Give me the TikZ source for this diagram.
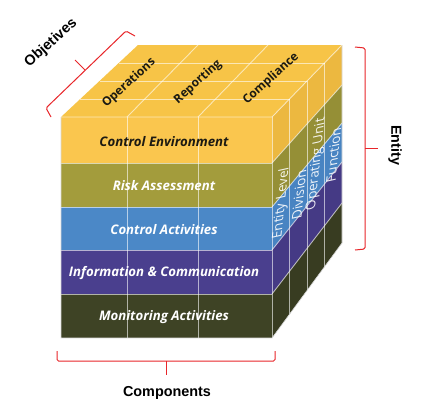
\documentclass[tikz,border=0pt]{standalone}
\usepackage{fontspec}
\setmainfont{Liberation Sans}
\newfontfamily\cubefont{Open Sans}
\definecolor{topY}{HTML}{F7C447}
\definecolor{ceF}{HTML}{FAC64E}
\definecolor{ceS}{HTML}{ECB840}
\definecolor{raF}{HTML}{A39C3C}
\definecolor{raS}{HTML}{958F36}
\definecolor{caF}{HTML}{4B88C7}
\definecolor{caS}{HTML}{4884C2}
\definecolor{icF}{HTML}{4A3F8E}
\definecolor{icS}{HTML}{453A85}
\definecolor{maF}{HTML}{3E4325}
\definecolor{maS}{HTML}{383C21}
\definecolor{brkred}{HTML}{E8262A}
\definecolor{txtdark}{HTML}{1C1A12}
\begin{document}
\begin{tikzpicture}[x=1pt,y=-1pt,
  gridln/.style={draw=white, draw opacity=0.6, line width=0.9pt},
  brk/.style={draw=brkred, line width=1pt, rounded corners=1.5pt},
  flabel/.style={font=\cubefont\bfseries\itshape\fontsize{13.2}{15}\selectfont, text=white, inner sep=0pt},
  tlabel/.style={font=\cubefont\bfseries\fontsize{12}{14}\selectfont, text=txtdark, rotate=42, inner sep=0pt},
  slabel/.style={font=\cubefont\fontsize{13.5}{15}\selectfont, text=white, text opacity=0.9, inner sep=0pt, cm={0.105,0.995,-0.995,-0.22,(0,0)}},
  axlabel/.style={font=\bfseries\fontsize{14.4}{16}\selectfont, text=black, inner sep=0pt}]
\useasboundingbox (0,0) rectangle (435,408);
\fill[white] (0,0) rectangle (435,408);
% top face
\fill[topY] (61,117) -- (272,117) -- (342,45) -- (138,45) -- cycle;
% front layers
\fill[ceF] (61,117) rectangle (272,163);
\fill[raF] (61,163) rectangle (272,207);
\fill[caF] (61,207) rectangle (272,250);
\fill[icF] (61,250) rectangle (272,294);
\fill[maF] (61,294) rectangle (272,338);
% side layers
\fill[ceS] (272,117) -- (342,45) -- (342,85) -- (272,163) -- cycle;
\fill[raS] (272,163) -- (342,85) -- (342,123) -- (272,207) -- cycle;
\fill[caS] (272,207) -- (342,123) -- (342,162) -- (272,250) -- cycle;
\fill[icS] (272,250) -- (342,162) -- (342,203) -- (272,294) -- cycle;
\fill[maS] (272,294) -- (342,203) -- (342,243) -- (272,338) -- cycle;
% top grid
\foreach \t in {0.25,0.5,0.75}
  \draw[gridln] ({61+77*\t},{117-72*\t}) -- ({272+70*\t},{117-72*\t});
\draw[gridln] (127,117) -- (198,45);
\draw[gridln] (198,117) -- (268,45);
% front grid
\draw[gridln] (127,117) -- (127,338);
\draw[gridln] (198,117) -- (198,338);
\foreach \y in {163,207,250,294}
  \draw[gridln] (61,\y) -- (272,\y);
% side grid
\draw[gridln] (272,163) -- (342,85);
\draw[gridln] (272,207) -- (342,123);
\draw[gridln] (272,250) -- (342,162);
\draw[gridln] (272,294) -- (342,203);
\foreach \t in {0.25,0.5,0.75}
  \draw[gridln] ({272+70*\t},{117-72*\t}) -- ({272+70*\t},{338-95*\t});
% edges
\draw[gridln] (61,117) -- (272,117) -- (342,45);
\draw[gridln] (272,117) -- (272,338);
\draw[draw=black!15, line width=0.6pt] (61,117) -- (61,338) -- (272,338) -- (342,243) -- (342,45);
% top labels
\node[tlabel] (ops) at (129,83) {Operations};
\node[tlabel] (rep) at (198,82) {Reporting};
\node[tlabel] (comp) at (271,79) {Compliance};
% front labels
\node[flabel, text=txtdark] (ce) at (164,142) {Control Environment};
\node[flabel] (ra) at (164,186) {Risk Assessment};
\node[flabel] (ca) at (164,230) {Control Activities};
\node[flabel] (ic) at (164,273) {Information \& Communication};
\node[flabel] (ma) at (164,317) {Monitoring Activities};
% side labels
\node[slabel] (el) at (281.5,203) {Entity Level};
\node[slabel] (div) at (299,195) {Division};
\node[slabel] (ou) at (316.5,164) {Operating Unit};
\node[slabel] (fn) at (333.5,155) {Function};
% brackets
\draw[brk] (51,117) -- (46,108) -- (126,31) -- (135,36);
\draw[brk] (85,70) -- (75,60);
\draw[brk] (355,47) -- (365,48) -- (365,249) -- (355,250);
\draw[brk] (365,148) -- (378,148);
\draw[brk] (57,351) -- (57,361) -- (275,361) -- (275,351);
\draw[brk] (166,361) -- (166,375);
% axis labels
\node[axlabel, rotate=42] (obj) at (51,43) {Objetives};
\node[axlabel, rotate=-90] (ent) at (395,145) {Entity};
\node[axlabel] (cmp) at (167,393) {Components};
\end{tikzpicture}
\end{document}
